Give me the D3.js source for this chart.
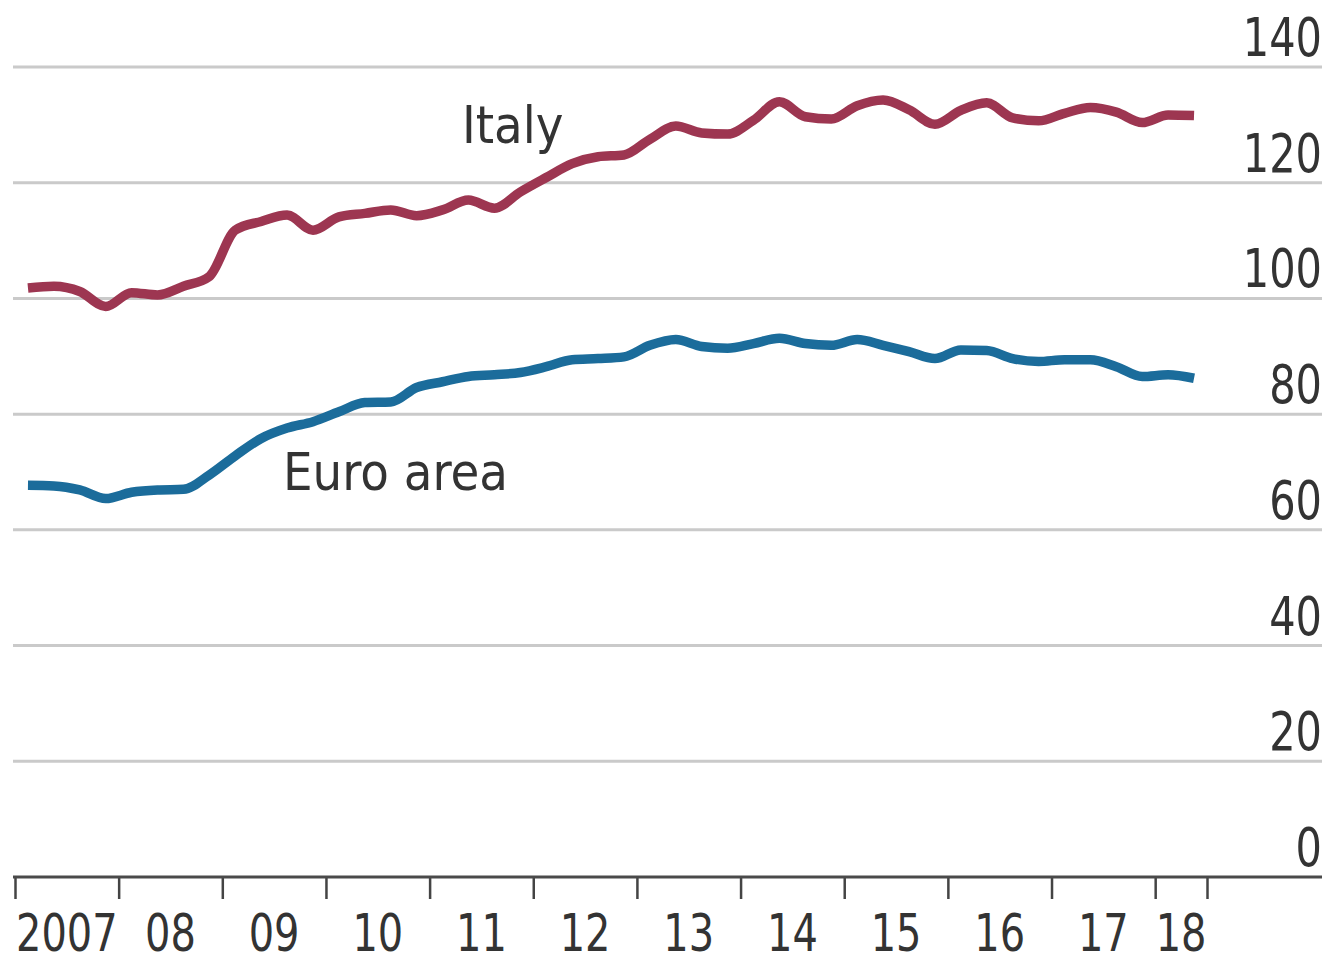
<!DOCTYPE html>
<html>
<head>
<meta charset="utf-8">
<script src="https://cdn.jsdelivr.net/npm/d3@7"></script>
<style>
  html, body { margin: 0; padding: 0; background: #ffffff; overflow: hidden; }
  svg { display: block; }
</style>
</head>
<body>
<svg id="chart" width="1330" height="965"></svg>
<script>
// Quarterly observations, 2007Q1 to 2018Q2
const quarters = [
  "2007Q1","2007Q2","2007Q3","2007Q4","2008Q1","2008Q2","2008Q3","2008Q4",
  "2009Q1","2009Q2","2009Q3","2009Q4","2010Q1","2010Q2","2010Q3","2010Q4",
  "2011Q1","2011Q2","2011Q3","2011Q4","2012Q1","2012Q2","2012Q3","2012Q4",
  "2013Q1","2013Q2","2013Q3","2013Q4","2014Q1","2014Q2","2014Q3","2014Q4",
  "2015Q1","2015Q2","2015Q3","2015Q4","2016Q1","2016Q2","2016Q3","2016Q4",
  "2017Q1","2017Q2","2017Q3","2017Q4","2018Q1","2018Q2"
];

const italy = [
  101.8, 102.1, 101.2, 98.6, 101.0, 100.6, 102.1, 103.8,
  111.8, 113.3, 114.4, 111.8, 114.1, 114.7, 115.3, 114.3,
  115.3, 117.0, 115.6, 118.4, 120.9, 123.3, 124.5, 124.8,
  127.5, 129.8, 128.6, 128.4, 130.8, 134.0, 131.4, 131.0,
  133.3, 134.3, 132.6, 130.1, 132.5, 133.8, 131.2, 130.7,
  132.0, 133.0, 132.2, 130.4, 131.7, 131.6
];

const euroArea = [
  67.7, 67.6, 66.9, 65.4, 66.5, 66.9, 67.0, 69.5,
  72.8, 75.8, 77.6, 78.7, 80.4, 82.0, 82.1, 84.6,
  85.6, 86.5, 86.8, 87.2, 88.2, 89.4, 89.6, 89.9,
  91.9, 92.9, 91.7, 91.4, 92.2, 93.1, 92.2, 91.9,
  92.9, 91.9, 90.8, 89.6, 91.1, 91.0, 89.6, 89.1,
  89.4, 89.4, 88.2, 86.5, 86.8, 86.2
];

const yTicks = [0, 20, 40, 60, 80, 100, 120, 140];
const yearTicks = [2007, 2008, 2009, 2010, 2011, 2012, 2013, 2014, 2015, 2016, 2017, 2018, 2018.5];
const yearLabels = ["2007", "08", "09", "10", "11", "12", "13", "14", "15", "16", "17", "18"];

const svg = d3.select("#chart");

const gridLeft = 13, gridRight = 1322;
const x = d3.scaleLinear().domain([2007, 2018.5]).range([15, 1207]);
const y = d3.scaleLinear().domain([0, 140]).range([877, 67]);

// quarter label -> fractional year at the middle of the quarter
const quarterPos = q => +q.slice(0, 4) + (+q.slice(5) - 0.5) / 4;

const numFont = "'DejaVu Sans Condensed', 'DejaVu Sans', sans-serif";
const labelFont = "'DejaVu Sans Condensed', 'DejaVu Sans', sans-serif";
const numSize = 53;
const squeeze = 0.87; // narrow the numerals horizontally

// horizontal gridlines (0 is drawn by the x axis)
svg.append("g")
  .selectAll("line")
  .data(yTicks.filter(d => d > 0))
  .join("line")
  .attr("x1", gridLeft).attr("x2", gridRight)
  .attr("y1", d => y(d)).attr("y2", d => y(d))
  .attr("stroke", "#cacaca")
  .attr("stroke-width", 3);

// y tick labels, right-aligned above each gridline
svg.append("g")
  .selectAll("text")
  .data(yTicks)
  .join("text")
  .attr("transform", d => `translate(${gridRight},${y(d) - 11}) scale(${squeeze},1)`)
  .attr("text-anchor", "end")
  .attr("font-family", numFont)
  .attr("font-size", numSize)
  .attr("fill", "#333")
  .text(d => d);

// x axis: year ticks and centered year labels
const xAxis = d3.axisBottom(x)
  .tickValues(yearTicks)
  .tickSize(22)
  .tickFormat("");
const gx = svg.append("g").attr("transform", `translate(0,${y(0)})`).call(xAxis);
gx.select(".domain").remove();
gx.selectAll(".tick line").attr("stroke", "#444").attr("stroke-width", 2.5);

svg.append("line")
  .attr("x1", gridLeft).attr("x2", gridRight)
  .attr("y1", y(0)).attr("y2", y(0))
  .attr("stroke", "#4a4a4a")
  .attr("stroke-width", 3);

svg.append("g")
  .selectAll("text")
  .data(yearLabels)
  .join("text")
  .attr("transform", (d, i) => {
    const mid = x((yearTicks[i] + yearTicks[i + 1]) / 2);
    return `translate(${mid},951) scale(${squeeze},1)`;
  })
  .attr("text-anchor", "middle")
  .attr("font-family", numFont)
  .attr("font-size", 51)
  .attr("fill", "#333")
  .text(d => d);

// series lines
const line = d3.line()
  .x((d, i) => x(quarterPos(quarters[i])))
  .y(d => y(d))
  .curve(d3.curveMonotoneX);

const series = [
  { name: "Italy", values: italy, color: "#9d3651", lx: 462, ly: 143 },
  { name: "Euro area", values: euroArea, color: "#1b6c9b", lx: 283, ly: 490 }
];

svg.append("g")
  .selectAll("path")
  .data(series)
  .join("path")
  .attr("d", d => line(d.values))
  .attr("fill", "none")
  .attr("stroke", d => d.color)
  .attr("stroke-width", 9.5)
  .attr("stroke-linejoin", "round")
  .attr("stroke-linecap", "butt");

svg.append("g")
  .selectAll("text")
  .data(series)
  .join("text")
  .attr("x", d => d.lx)
  .attr("y", d => d.ly)
  .attr("font-family", labelFont)
  .attr("font-size", 52)
  .attr("fill", "#333")
  .text(d => d.name);
</script>
</body>
</html>
